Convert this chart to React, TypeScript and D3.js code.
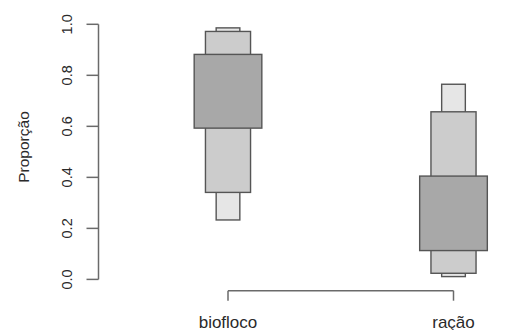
import React from "react";
import * as d3 from "d3";

const categories = ["biofloco", "ração"];
// letter-value boxes per category: [lower, upper], outermost (narrow) first
const outerLower = [0.233, 0.011];
const outerUpper = [0.986, 0.765];
const midLower = [0.341, 0.024];
const midUpper = [0.972, 0.657];
const innerLower = [0.593, 0.113];
const innerUpper = [0.882, 0.405];
const yTicks = [0, 0.2, 0.4, 0.6, 0.8, 1.0];

const levels = [
  { lower: outerLower, upper: outerUpper, width: 0.105, fill: "#e6e6e6" },
  { lower: midLower, upper: midUpper, width: 0.2, fill: "#cccccc" },
  { lower: innerLower, upper: innerUpper, width: 0.3, fill: "#a8a8a8" },
];

export default function App() {
  const W = 516, H = 330;
  const x = d3.scaleLinear().domain([1, 2]).range([228, 453.5]);
  const y = d3.scaleLinear().domain([0, 1]).range([279.4, 24.3]);
  const axisColor = "#6a6a6a";
  const font = "'Liberation Sans', Arial, sans-serif";
  const pxPerUnit = x(2) - x(1);
  const axisX = 98.5;
  const axisY = 290.7;

  return (
    <svg width={W} height={H} style={{ position: "absolute", left: 0, top: 0, background: "#fff" }}>
      <rect x={0} y={0} width={W} height={H} fill="#fff" />
      {/* y axis */}
      <line x1={axisX} x2={axisX} y1={y(0)} y2={y(1)} stroke={axisColor} strokeWidth={1.5} />
      {yTicks.map((t) => (
        <g key={t}>
          <line x1={axisX - 12} x2={axisX} y1={y(t)} y2={y(t)} stroke={axisColor} strokeWidth={1.5} />
          <text
            transform={`translate(${71.5},${y(t)}) rotate(-90)`}
            textAnchor="middle"
            fontFamily={font}
            fontSize={14.5}
            fill="#2a2a2a"
          >
            {d3.format(".1f")(t)}
          </text>
        </g>
      ))}
      <text
        transform={`translate(${29},${147}) rotate(-90)`}
        textAnchor="middle"
        fontFamily={font}
        fontSize={15.5}
        fill="#2a2a2a"
      >
        Proporção
      </text>
      {/* x axis */}
      <line x1={x(1)} x2={x(2)} y1={axisY} y2={axisY} stroke={axisColor} strokeWidth={1.5} />
      {categories.map((c, i) => (
        <g key={c}>
          <line x1={x(i + 1)} x2={x(i + 1)} y1={axisY} y2={axisY + 10} stroke={axisColor} strokeWidth={1.5} />
          <text x={x(i + 1)} y={327.5} textAnchor="middle" fontFamily={font} fontSize={17} fill="#2a2a2a">
            {c}
          </text>
        </g>
      ))}
      {/* boxes */}
      {categories.map((c, i) =>
        levels.map((lv, j) => {
          const cx = x(i + 1);
          const hw = (lv.width * pxPerUnit) / 2;
          const top = y(lv.upper[i]);
          const bot = y(lv.lower[i]);
          return (
            <rect
              key={c + j}
              x={cx - hw}
              y={top}
              width={hw * 2}
              height={bot - top}
              fill={lv.fill}
              stroke="#555"
              strokeWidth={1.4}
            />
          );
        })
      )}
    </svg>
  );
}
